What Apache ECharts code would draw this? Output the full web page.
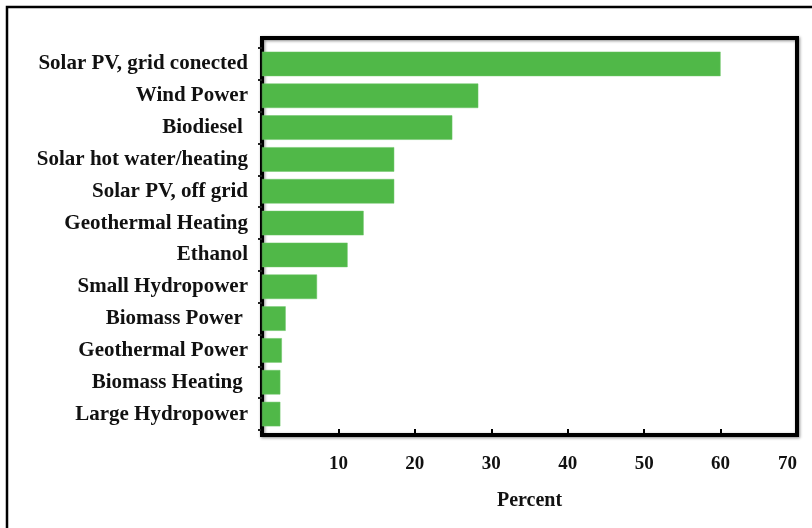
<!DOCTYPE html>
<html>
<head>
<meta charset="utf-8">
<title>Growth by renewable technology</title>
<script src="https://cdn.jsdelivr.net/npm/echarts@6/dist/echarts.min.js"></script>
<style>
  html, body { margin: 0; padding: 0; background: #ffffff; }
  #chart { width: 812px; height: 528px; }
</style>
</head>
<body>
<div id="chart"></div>
<script>
// Technologies, listed top to bottom
const categories = [
  'Solar PV, grid conected',
  'Wind Power',
  'Biodiesel ',
  'Solar hot water/heating',
  'Solar PV, off grid',
  'Geothermal Heating',
  'Ethanol',
  'Small Hydropower',
  'Biomass Power ',
  'Geothermal Power',
  'Biomass Heating ',
  'Large Hydropower'
];

// Percent value for each technology
const percentValues = [60, 28.3, 24.9, 17.3, 17.3, 13.3, 11.2, 7.2, 3.1, 2.6, 2.4, 2.4];

// Percent axis tick labels
const percentTicks = ['', '10', '20', '30', '40', '50', '60', '70'];

const serif = '"Liberation Serif", "Times New Roman", "DejaVu Serif", serif';
const barColor = '#50b848';

const chart = echarts.init(document.getElementById('chart'), null, { renderer: 'canvas' });

chart.setOption({
  backgroundColor: '#ffffff',
  animation: false,
  graphic: [
    {
      type: 'rect',
      shape: { x: 7, y: 7, width: 830, height: 540 },
      style: { fill: 'none', stroke: '#000', lineWidth: 2.5 },
      silent: true
    }
  ],
  grid: [
    // bar area
    { left: 262, right: 15, top: 48, bottom: 98, containLabel: false },
    // framed plot box carrying the Percent axis
    {
      left: 262, right: 15, top: 38, bottom: 93, containLabel: false,
      show: true,
      borderColor: '#000',
      borderWidth: 4,
      backgroundColor: 'transparent',
      shadowColor: 'rgba(0,0,0,0.45)',
      shadowBlur: 3,
      shadowOffsetX: 1,
      shadowOffsetY: 1
    }
  ],
  xAxis: [
    {
      type: 'value', gridIndex: 0, min: 0, max: 70, interval: 10,
      show: false
    },
    {
      type: 'value', gridIndex: 1, min: 0, max: 70, interval: 10,
      name: 'Percent',
      nameLocation: 'middle',
      nameGap: 56,
      nameTextStyle: { fontFamily: serif, fontWeight: 'bold', fontSize: 20, color: '#111' },
      axisLine: { show: true, lineStyle: { color: '#000', width: 4 } },
      axisTick: { show: true, inside: true, length: 6, lineStyle: { color: '#000', width: 2 } },
      splitLine: { show: false },
      axisLabel: {
        margin: 20,
        fontFamily: serif,
        fontWeight: 'bold',
        fontSize: 19,
        color: '#111',
        alignMaxLabel: 'right',
        formatter: function (v) { return percentTicks[Math.round(v / 10)]; }
      }
    }
  ],
  yAxis: [
    {
      type: 'category', gridIndex: 0, data: categories, inverse: true,
      axisLine: { show: false },
      axisTick: { show: true, inside: false, length: 4, lineStyle: { color: '#222', width: 2 } },
      axisLabel: {
        margin: 14,
        fontFamily: serif,
        fontWeight: 'bold',
        fontSize: 21,
        color: '#111'
      },
      splitLine: { show: false }
    },
    {
      type: 'value', gridIndex: 1, min: 0, max: 1,
      show: false
    }
  ],
  series: [
    {
      type: 'bar',
      xAxisIndex: 0,
      yAxisIndex: 0,
      data: percentValues,
      barWidth: 24.5,
      itemStyle: { color: barColor, borderColor: '#6cc566', borderWidth: 0.5 },
      silent: true
    }
  ]
});
</script>
</body>
</html>
